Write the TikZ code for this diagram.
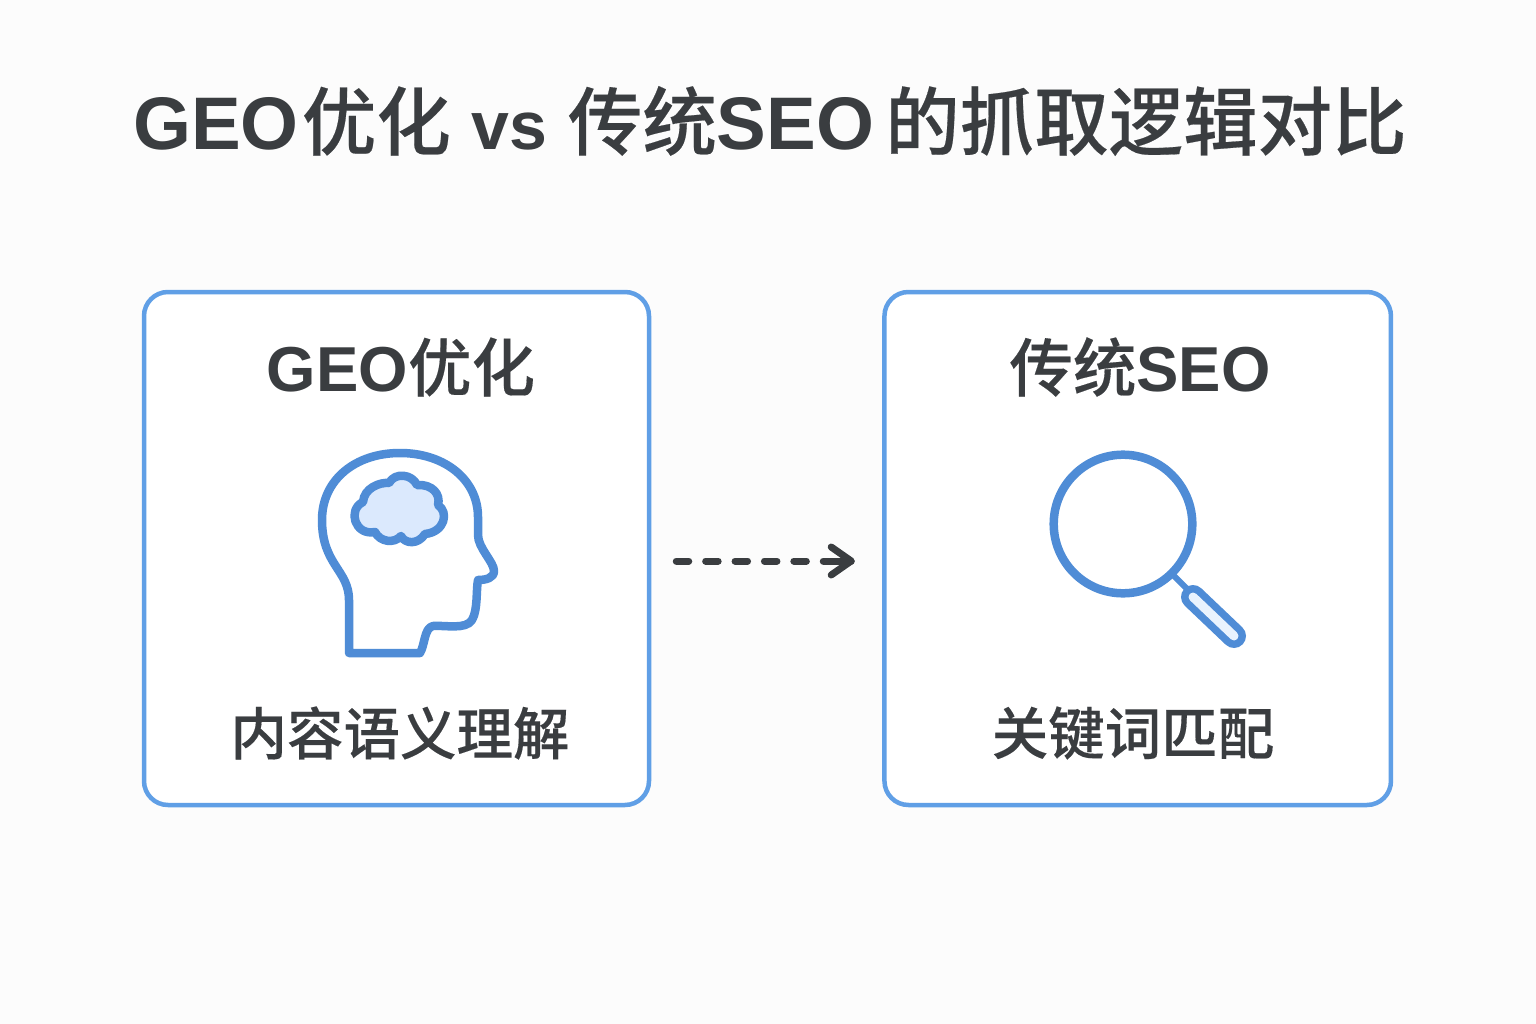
\documentclass[tikz,border=0pt]{standalone}
\usepackage{fontspec}
\setmainfont{Liberation Sans}
\newfontfamily\cjk{Noto Sans CJK SC Medium}[FakeBold=0.25]
\usetikzlibrary{calc}
\definecolor{bgc}{HTML}{FCFCFC}
\definecolor{ink}{HTML}{3A3D40}
\definecolor{edgeblue}{HTML}{609FE6}
\definecolor{iconblue}{HTML}{4F8CD6}
\definecolor{cloudfill}{HTML}{DBE9FD}
\definecolor{handlefill}{HTML}{E9F3FE}
\newcommand{\zh}[1]{{\cjk #1}}
\newcommand{\la}[1]{{\bfseries #1}}
\tikzset{
  card/.style={draw=edgeblue,line width=4.5pt,fill=white,rounded corners=24pt,minimum height=513pt,inner sep=0pt},
  titletext/.style={text=ink,inner sep=0pt,font=\fontsize{74.5}{80}\selectfont},
  headtext/.style={text=ink,inner sep=0pt,font=\fontsize{63.5}{70}\selectfont},
  captext/.style={text=ink,inner sep=0pt,font=\fontsize{56.5}{64}\selectfont},
  iconline/.style={draw=iconblue,line width=8.5pt,line join=round,line cap=round},
  flowdash/.style={draw=ink,line width=7pt,line cap=round,dash pattern=on 12.5pt off 16.9pt},
  flowsolid/.style={draw=ink,line width=7pt,line cap=round,line join=round}
}
\begin{document}
\begin{tikzpicture}[x=1pt,y=-1pt]
\useasboundingbox (0,0) rectangle (1536,1024);
\fill[bgc] (0,0) rectangle (1536,1024);
\node[titletext] (title) at (770,121) {\la{GEO}\hspace{3pt}\zh{优化}\la{ {\fontsize{68}{70}\selectfont vs} }\zh{传统}\la{SEO}\hspace{11pt}\zh{的抓取逻辑对比}};
\node[card,minimum width=505pt] (geo) at (396.5,548.5) {};
\node[card,minimum width=506.5pt] (seo) at (1137.7,548.5) {};
\node[headtext] (geohead) at (401,367) {\la{GEO}\zh{优化}};
\node[headtext] (seohead) at (1140,367) {\zh{传统}\la{SEO}};
\node[captext] (geocap) at (400,733) {\zh{内容语义理解}};
\node[captext] (seocap) at (1133,733) {\zh{关键词匹配}};
% head
\draw[iconline] (349,653) -- (349,600)
  .. controls (349,570) and (322,565) .. (322,520)
  .. controls (322,480) and (355,453) .. (400,453)
  .. controls (445,453) and (478,480) .. (478,517)
  -- (478,535)
  .. controls (478,548) and (494,562) .. (494,571)
  .. controls (494,578) and (486,580) .. (478,580)
  .. controls (476,590) and (478,610) .. (472,620)
  .. controls (466,630) and (445,625) .. (433,626)
  .. controls (424,628) and (425,645) .. (420,653)
  -- cycle;
% cloud
\draw[iconline,fill=cloudfill]
  (363,502) .. controls (364,488) and (380,482) .. (389,483)
  .. controls (395,472) and (412,474) .. (417,485)
  .. controls (432,484) and (441,494) .. (438,505)
  .. controls (449,512) and (445,532) .. (425,534)
  .. controls (418,545) and (405,544) .. (401,536)
  .. controls (394,544) and (380,542) .. (375,532)
  .. controls (355,536) and (347,510) .. (363,502)
  -- cycle;
% magnifier
\draw[iconline,fill=white] (1123,524) circle[radius=69.3];
\draw[draw=iconblue,line width=6pt] (1173,575) -- (1190,592);
\draw[draw=iconblue,line width=24pt,line cap=round] (1193,597) -- (1234,636);
\draw[draw=handlefill,line width=9pt,line cap=round] (1193,597) -- (1234,636);
% flow
\draw[flowdash,shorten <=25pt,shorten >=70pt] ([yshift=-12.5pt]geo.east) -- ([yshift=-12.5pt]seo.west);
\draw[flowsolid,shorten <=172pt,shorten >=31pt] ([yshift=-12.5pt]geo.east) -- ([yshift=-12.5pt]seo.west);
\coordinate (tip) at ($([yshift=-12.5pt]seo.west)+(-31,0)$);
\draw[flowsolid] ($(tip)+(-20,-14)$) -- (tip) -- ($(tip)+(-20,14)$);
\end{tikzpicture}
\end{document}
